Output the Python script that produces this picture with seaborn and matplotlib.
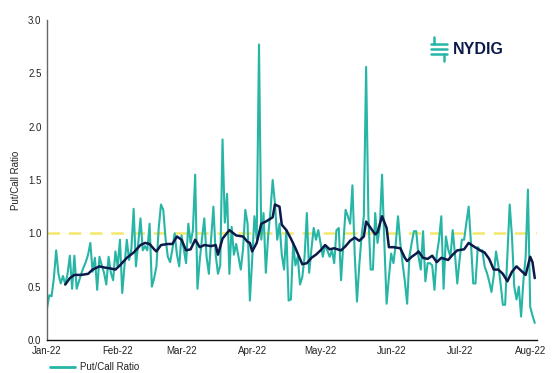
"""
Daily put/call ratio with moving average, NYDIG style.
"""
import numpy as np
import pandas as pd
import matplotlib
matplotlib.use("Agg")
import matplotlib.pyplot as plt
import matplotlib.dates as mdates
from matplotlib.lines import Line2D
import seaborn as sns

# Daily put/call ratio, one value per calendar day starting 2022-01-01
jan = [0.30, 0.42, 0.41, 0.58, 0.84, 0.62, 0.53, 0.60, 0.52, 0.62,
       0.79, 0.48, 0.79, 0.48, 0.55, 0.62, 0.68, 0.73, 0.80, 0.91,
       0.64, 0.77, 0.47, 0.78, 0.70, 0.63, 0.52, 0.78, 0.63, 0.56, 0.83]
feb = [0.69, 0.94, 0.44, 0.70, 0.94, 0.75, 0.85, 1.23, 0.69, 0.90,
       1.14, 0.84, 0.88, 0.84, 1.09, 0.50, 0.58, 0.69, 1.05, 1.27,
       1.22, 0.95, 0.78, 0.73, 0.85, 1.00, 0.80, 0.69]
mar = [0.98, 0.85, 0.72, 1.09, 0.91, 1.03, 1.55, 0.48, 0.75, 0.95,
       1.14, 0.78, 0.62, 0.95, 1.25, 0.80, 0.62, 0.70, 1.88, 1.10,
       1.37, 0.62, 1.06, 0.80, 0.90, 0.78, 0.66, 0.85, 1.22, 1.09, 0.37]
apr = [0.75, 1.16, 0.95, 2.77, 0.94, 1.19, 0.63, 0.97, 1.20, 1.50,
       1.28, 0.94, 1.09, 0.80, 0.66, 1.03, 0.37, 0.38, 0.91, 0.70,
       0.78, 0.52, 0.59, 0.78, 1.19, 0.63, 0.85, 1.05, 0.94, 1.03]
may = [0.91, 0.78, 0.89, 0.84, 0.78, 0.84, 0.72, 1.03, 1.05, 0.56,
       0.90, 1.22, 1.16, 1.09, 1.45, 0.80, 0.36, 0.70, 0.97, 1.16,
       2.56, 1.16, 0.66, 0.66, 1.19, 0.91, 1.06, 1.55, 0.91, 0.34, 0.59]
jun = [0.81, 0.72, 0.90, 1.16, 0.91, 0.72, 0.55, 0.34, 0.78, 0.91,
       1.02, 1.02, 0.78, 0.66, 1.02, 0.55, 0.72, 0.72, 0.70, 0.47,
       0.80, 0.94, 1.16, 0.48, 0.97, 0.85, 0.78, 1.03, 0.80, 0.53]
jul = [0.75, 0.94, 0.94, 1.10, 1.25, 0.91, 0.53, 0.53, 0.87, 0.84,
       0.84, 0.69, 0.63, 0.55, 0.45, 0.60, 0.83, 0.70, 0.53, 0.33,
       0.33, 0.80, 1.27, 0.97, 0.50, 0.38, 0.50, 0.22, 0.55, 0.78, 1.41]
aug = [0.31, 0.23, 0.16]

# Moving average
ma_dates = ["01-09", "01-11", "01-13", "01-16", "01-19", "01-21", "01-24", "01-26",
            "01-29", "01-31", "02-02", "02-05", "02-08", "02-11", "02-13", "02-15",
            "02-17", "02-18", "02-20", "02-23", "02-25", "02-27", "03-01", "03-03",
            "03-05", "03-07", "03-09", "03-11", "03-14", "03-16", "03-17", "03-19",
            "03-22", "03-25", "03-28", "03-30", "03-31", "04-01", "04-03", "04-05",
            "04-07", "04-10", "04-11", "04-13", "04-14", "04-16", "04-18", "04-20",
            "04-22", "04-23", "04-25", "04-27", "04-29", "05-01", "05-03", "05-05",
            "05-07", "05-10", "05-12", "05-14", "05-16", "05-18", "05-20", "05-21",
            "05-23", "05-25", "05-26", "05-28", "05-30", "05-31", "06-02", "06-05",
            "06-07", "06-08", "06-10", "06-12", "06-13", "06-15", "06-17", "06-19",
            "06-21", "06-23", "06-26", "06-28", "06-30", "07-03", "07-05", "07-07",
            "07-10", "07-12", "07-14", "07-16", "07-18", "07-20", "07-22", "07-24",
            "07-26", "07-28", "07-30", "08-01", "08-02", "08-03"]
ma_values = [0.52, 0.58, 0.61, 0.61, 0.62, 0.66, 0.69, 0.68,
             0.67, 0.66, 0.70, 0.77, 0.82, 0.89, 0.91, 0.90,
             0.85, 0.83, 0.89, 0.90, 0.90, 0.97, 0.94, 0.84,
             0.85, 0.94, 0.87, 0.89, 0.88, 0.89, 0.80, 0.95,
             1.03, 0.98, 0.97, 0.92, 0.91, 0.83, 0.91, 1.09,
             1.11, 1.15, 1.27, 1.25, 1.08, 1.03, 0.95, 0.86,
             0.76, 0.71, 0.72, 0.77, 0.80, 0.84, 0.89, 0.85,
             0.86, 0.84, 0.88, 0.93, 0.96, 0.93, 0.97, 1.11,
             1.05, 0.99, 1.01, 1.16, 1.05, 0.87, 0.87, 0.86,
             0.77, 0.74, 0.78, 0.81, 0.83, 0.77, 0.76, 0.79,
             0.73, 0.77, 0.75, 0.80, 0.84, 0.85, 0.91, 0.88,
             0.84, 0.82, 0.76, 0.66, 0.66, 0.62, 0.55, 0.64,
             0.69, 0.65, 0.61, 0.78, 0.73, 0.58]

reference_level = 1.0
y_ticks = [0.0, 0.5, 1.0, 1.5, 2.0, 2.5, 3.0]

TEAL = "#27b5a6"
NAVY = "#0c1a4a"
YELLOW = "#f4e86c"

daily_values = jan + feb + mar + apr + may + jun + jul + aug
daily = pd.DataFrame({
    "date": pd.date_range("2022-01-01", periods=len(daily_values), freq="D"),
    "ratio": daily_values,
})
ma = pd.DataFrame({
    "date": pd.to_datetime(["2022-" + d for d in ma_dates]),
    "ratio": ma_values,
})

sns.set_style("white")
plt.rcParams["font.family"] = ["Liberation Sans", "DejaVu Sans"]

fig = plt.figure(figsize=(5.6, 3.73), dpi=100)
ax = fig.add_axes([0.084, 0.0885, 0.875, 0.858])

sns.lineplot(data=daily, x="date", y="ratio", ax=ax, color=TEAL, linewidth=1.5, zorder=2)
sns.lineplot(data=ma, x="date", y="ratio", ax=ax, color=NAVY, linewidth=1.8, zorder=3)
ax.axhline(reference_level, color=YELLOW, linewidth=1.8, dashes=(5, 3.5), zorder=1)

ax.set_xlim(pd.Timestamp("2022-01-01"), pd.Timestamp("2022-08-04"))
ax.set_ylim(0, 3.0)
ax.set_yticks(y_ticks)
ax.yaxis.set_major_formatter(matplotlib.ticker.FormatStrFormatter("%.1f"))
ax.xaxis.set_major_locator(mdates.MonthLocator())
ax.xaxis.set_major_formatter(mdates.DateFormatter("%b-%y"))
ax.tick_params(axis="both", labelsize=7, length=0, pad=4, colors="#222222")
ax.set_xlabel("")
ax.set_ylabel("Put/Call Ratio", fontsize=7, color="#222222", labelpad=5)

for side in ["top", "right"]:
    ax.spines[side].set_visible(False)
ax.spines["left"].set_color("#666666")
ax.spines["left"].set_linewidth(1.0)
ax.spines["bottom"].set_color("#111111")
ax.spines["bottom"].set_linewidth(1.0)

# NYDIG logo (text plus a simple teal mark)
fig.text(0.808, 0.868, "NYDIG", fontsize=11.5, fontweight="bold", color=NAVY,
         ha="left", va="center")
mark_lines = [
    ([0.769, 0.798], [0.882, 0.882]),
    ([0.769, 0.798], [0.868, 0.868]),
    ([0.769, 0.798], [0.854, 0.854]),
    ([0.775, 0.775], [0.882, 0.900]),
    ([0.792, 0.792], [0.854, 0.836]),
]
for xs, ys in mark_lines:
    fig.add_artist(Line2D(xs, ys, transform=fig.transFigure, color=TEAL,
                          linewidth=1.8, solid_capstyle="round"))

# Legend entry at the bottom edge
fig.add_artist(Line2D([0.09, 0.134], [0.016, 0.016], transform=fig.transFigure,
                      color=TEAL, linewidth=2))
fig.text(0.143, 0.016, "Put/Call Ratio", fontsize=7, color="#222222",
         ha="left", va="center")

fig.savefig("out.png", dpi=100)
